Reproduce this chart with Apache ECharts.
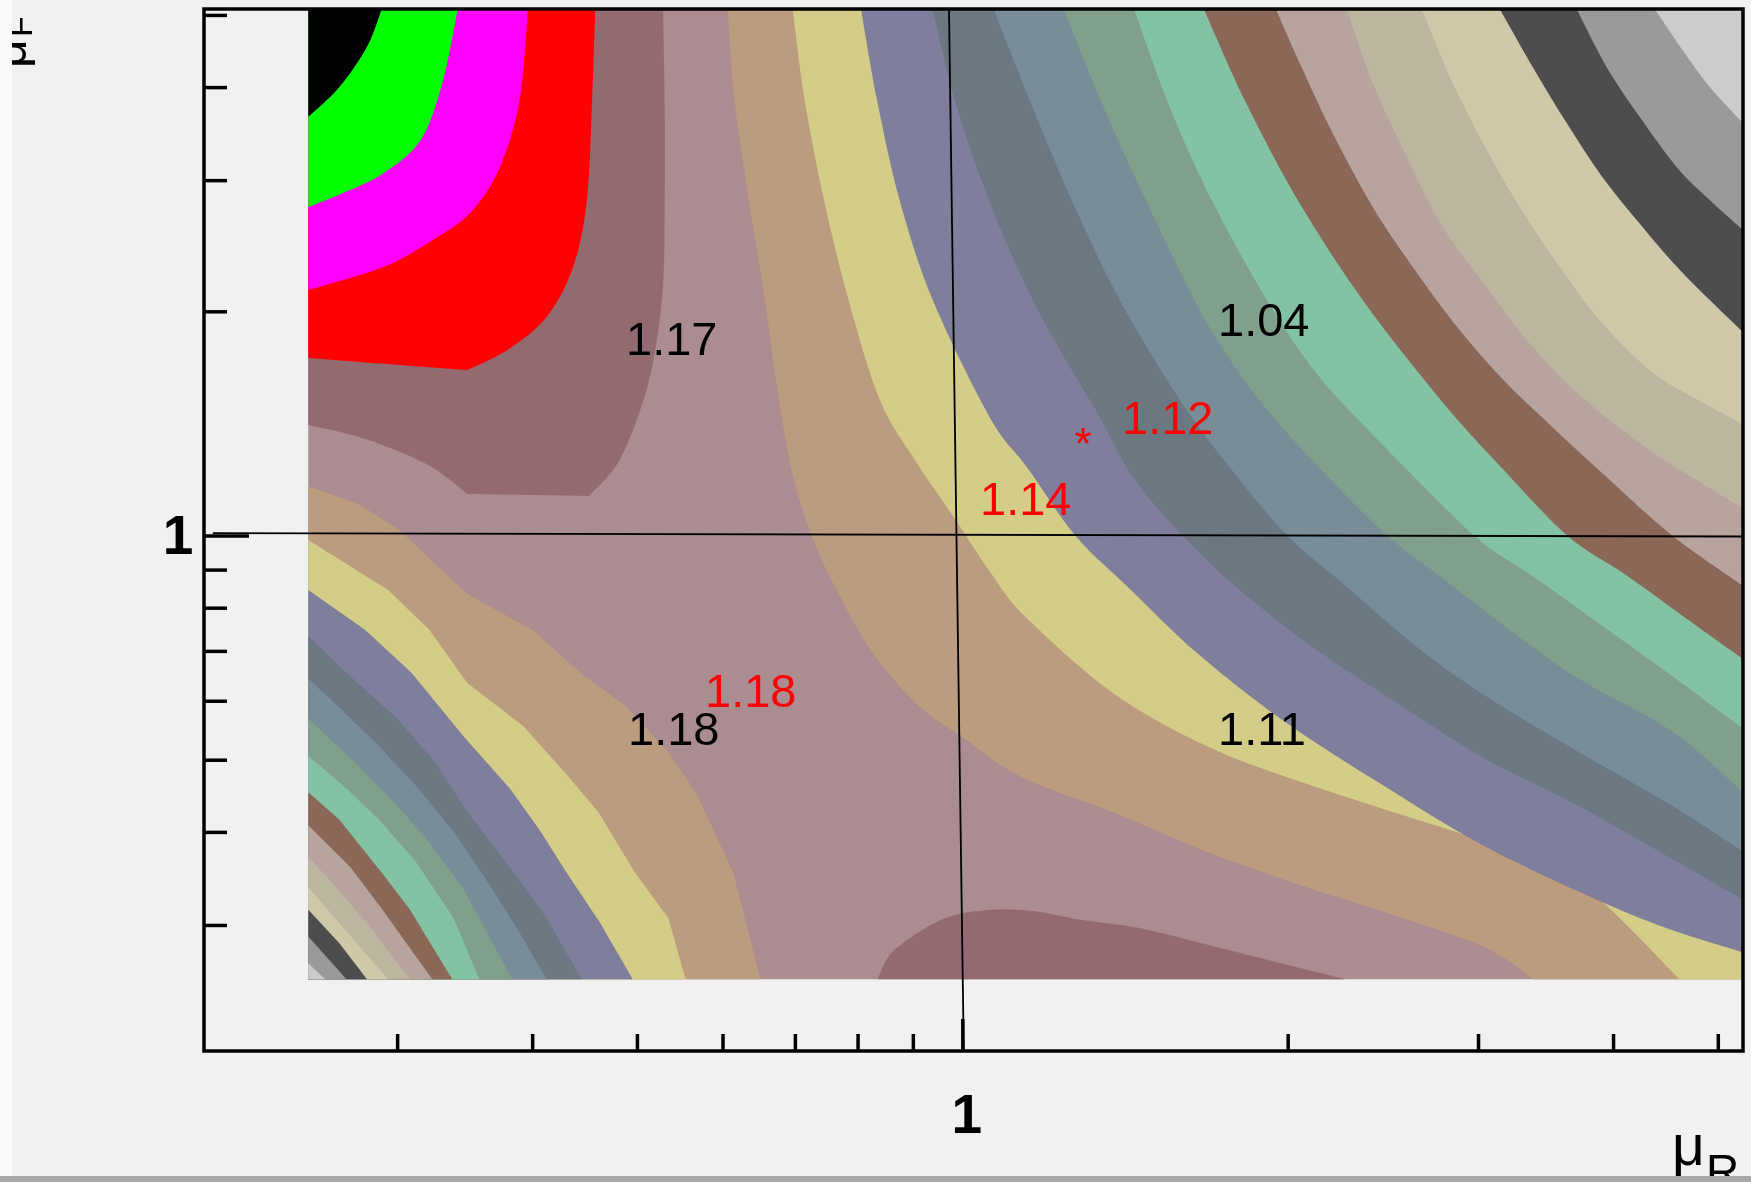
<!DOCTYPE html>
<html>
<head>
<meta charset="utf-8">
<script src="https://cdn.jsdelivr.net/npm/echarts@6/dist/echarts.min.js"></script>
<style>
html,body{margin:0;padding:0;background:#f1f1f1;}
#chart{width:1751px;height:1182px;}
</style>
</head>
<body>
<div id="chart"></div>
<script>
// ================= DATA (mu_R, mu_F values) =================
const axisRangeX = [0.1986, 5.27];
const axisRangeY = [0.2035, 5.10];
const dataExtentX = [0.248, 5.27];
const dataExtentY = [0.254, 5.10];

const xTickValues = [0.3, 0.4, 0.5, 0.6, 0.7, 0.8, 0.9, 2, 3, 4, 5];
const yTickValues = [0.3, 0.4, 0.5, 0.6, 0.7, 0.8, 0.9, 2, 3, 4, 5];
const majorTickValues = [1];
const majorTickLabels = ['1'];

// contour boundaries, upper-right family (from the central ridge outwards)
const ur1 = [[0.606,5.10],[0.615,3.848],[0.634,2.825],[0.656,2.074],[0.676,1.523],[0.696,1.208],[0.725,1.0],[0.761,0.857],[0.825,0.697],[0.911,0.591],[0.996,0.539],[1.129,0.476],[1.376,0.426],[1.678,0.377],[2.05,0.340],[2.499,0.310],[3.046,0.280],[3.368,0.254]];
const ur2 = [[0.696,5.10],[0.714,3.848],[0.744,2.825],[0.784,2.074],[0.838,1.523],[0.903,1.265],[0.985,1.051],[1.057,0.900],[1.141,0.781],[1.376,0.616],[1.678,0.523],[2.05,0.468],[2.499,0.426],[3.046,0.388],[3.714,0.343],[4.606,0.254]];
const ur3 = [[0.805,5.10],[0.833,3.848],[0.874,2.825],[0.938,2.074],[1.059,1.444],[1.146,1.238],[1.272,1.0],[1.418,0.857],[1.646,0.697],[1.969,0.568],[2.452,0.462],[3.105,0.377],[4.23,0.307],[5.27,0.276]];
const ur4 = [[0.938,5.10],[0.983,3.848],[1.057,2.825],[1.144,2.166],[1.23,1.777],[1.339,1.444],[1.437,1.200],[1.598,1.0],[1.804,0.846],[2.094,0.714],[2.499,0.602],[3.046,0.502],[3.714,0.434],[5.27,0.325]];
const ur5 = [[1.068,5.10],[1.153,3.848],[1.261,2.825],[1.397,2.074],[1.588,1.523],[1.774,1.226],[1.998,1.0],[2.261,0.857],[2.624,0.712],[3.046,0.610],[3.714,0.513],[4.537,0.434],[5.27,0.377]];
const ur6 = [[1.24,5.10],[1.35,3.765],[1.477,2.825],[1.678,1.944],[1.891,1.508],[2.153,1.222],[2.473,1.0],[2.762,0.884],[3.206,0.748],[3.714,0.643],[4.537,0.546],[5.27,0.453]];
const ur7 = [[1.44,5.10],[1.554,3.765],[1.699,2.825],[1.911,2.074],[2.13,1.645],[2.452,1.321],[2.976,1.0],[3.345,0.889],[3.883,0.762],[4.528,0.649],[5.27,0.551]];
const ur8 = [[1.671,5.10],[1.823,3.848],[2.041,2.825],[2.344,2.074],[2.768,1.523],[3.166,1.226],[3.628,1.0],[4.105,0.887],[4.625,0.783],[5.27,0.684]];
const ur9 = [[1.948,5.10],[2.05,4.314],[2.199,3.474],[2.395,2.764],[2.608,2.297],[2.834,1.949],[3.119,1.655],[3.455,1.431],[3.968,1.189],[4.537,1.0],[5.27,0.857]];
const ur10 = [[2.266,5.10],[2.395,4.056],[2.575,3.226],[2.78,2.599],[3.053,2.159],[3.324,1.833],[3.722,1.546],[4.32,1.304],[5.27,1.090]];
const ur11 = [[2.658,5.10],[2.84,4.056],[3.053,3.297],[3.276,2.764],[3.567,2.297],[3.883,1.949],[4.32,1.670],[4.754,1.532],[5.27,1.413]];
const ur12 = [[3.139,5.10],[3.368,4.261],[3.62,3.584],[3.883,3.070],[4.202,2.656],[4.635,2.254],[5.27,1.878]];
const ur13 = [[3.698,5.10],[3.942,4.261],[4.23,3.651],[4.576,3.128],[4.909,2.825],[5.27,2.575]];
const ur14 = [[4.366,5.10],[4.635,4.490],[4.909,4.006],[5.27,3.584]];

// contour boundaries, lower-left family (from the ridge towards the corner)
const ll1 = [[0.248,1.167],[0.277,1.1005],[0.301,1.019],[0.348,0.836],[0.40,0.748],[0.446,0.649],[0.488,0.591],[0.534,0.513],[0.566,0.453],[0.613,0.354],[0.65,0.254]];
const ll2 = [[0.248,0.988],[0.294,0.846],[0.321,0.748],[0.348,0.635],[0.392,0.556],[0.428,0.482],[0.46,0.426],[0.497,0.354],[0.534,0.307],[0.554,0.254]];
const ll3 = [[0.248,0.846],[0.28,0.748],[0.309,0.655],[0.345,0.539],[0.381,0.458],[0.406,0.403],[0.43,0.353],[0.462,0.302],[0.495,0.254]];
const ll4 = [[0.248,0.734],[0.269,0.655],[0.30,0.568],[0.325,0.497],[0.348,0.426],[0.384,0.354],[0.412,0.307],[0.444,0.254]];
const ll5 = [[0.248,0.643],[0.266,0.586],[0.288,0.523],[0.312,0.462],[0.338,0.401],[0.362,0.346],[0.385,0.301],[0.412,0.254]];
const ll6 = [[0.248,0.568],[0.272,0.502],[0.294,0.448],[0.319,0.392],[0.345,0.336],[0.383,0.254]];
const ll7 = [[0.248,0.507],[0.269,0.458],[0.288,0.417],[0.312,0.365],[0.338,0.307],[0.357,0.254]];
const ll8 = [[0.248,0.453],[0.265,0.416],[0.291,0.351],[0.308,0.315],[0.337,0.254]];
const ll9 = [[0.248,0.409],[0.271,0.36],[0.289,0.318],[0.323,0.254]];
const ll10 = [[0.248,0.371],[0.261,0.342],[0.281,0.302],[0.308,0.254]];
const ll11 = [[0.248,0.338],[0.265,0.302],[0.294,0.254]];
const ll12 = [[0.248,0.315],[0.265,0.284],[0.281,0.254]];
const ll13 = [[0.248,0.29],[0.269,0.254]];
const ll14 = [[0.248,0.267],[0.257,0.254]];

// upper-left corner (increasing values)
const ulDarkMauve = [[0.528,5.10],[0.53,3.765],[0.53,2.825],[0.528,2.166],[0.518,1.739],[0.503,1.476],[0.479,1.249],[0.451,1.132],[0.348,1.139],[0.319,1.249],[0.28,1.35],[0.248,1.409]];
const ulRed = [[0.457,5.10],[0.454,3.848],[0.449,2.825],[0.436,2.297],[0.412,1.968],[0.379,1.777],[0.348,1.670],[0.248,1.734]];
const ulMagenta = [[0.396,5.10],[0.389,3.848],[0.373,3.128],[0.35,2.714],[0.323,2.496],[0.291,2.297],[0.248,2.139]];
const ulGreen = [[0.341,5.10],[0.33,4.056],[0.315,3.40],[0.291,3.07],[0.267,2.887],[0.248,2.764]];
const ulBlack = [[0.29,5.10],[0.281,4.533],[0.265,4.006],[0.248,3.651]];

// island at the bottom
const bottomBump = [[0.834,0.254],[0.851,0.2705],[0.876,0.2825],[0.954,0.305],[1.037,0.314],[1.156,0.314],[1.289,0.305],[1.449,0.298],[1.646,0.285],[1.948,0.268],[2.261,0.254]];

// hand-drawn cross through (1,1)
const crossV = [[0.971,5.10],[1.002,0.2045]];
const crossH = [[0.2024,1.009],[5.27,0.9985]];

// ================= STYLES =================
const C = {
  lightMauve:'#aa8c91', darkMauve:'#946a71', tan:'#bc9c7f', yellow:'#d3cd87',
  purple:'#7f7e9c', slate:'#6b7882', blueGray:'#788d97', grayGreen:'#81a08b',
  mint:'#83c2a3', brown:'#8a6756', pinkish:'#b8a49e', beige:'#bcb6a1',
  lightKhaki:'#cfc9aa', darkGray:'#4d4d4d', midGray:'#9a9a9a', lightGray:'#cccccc',
  red:'#ff0000', magenta:'#ff00ff', green:'#00ff00', black:'#000000'
};
const bandColors = [C.tan, C.yellow, C.purple, C.slate, C.blueGray, C.grayGreen, C.mint,
  C.brown, C.pinkish, C.beige, C.lightKhaki, C.darkGray, C.midGray, C.lightGray];
const FONT = '"Liberation Sans", Arial, Helvetica, sans-serif';

const XL = dataExtentX[0], XR = dataExtentX[1], YB = dataExtentY[0], YT = dataExtentY[1];

// region = boundary curve (smoothed or straight when drawn) + straight closing corners
const regions = [];
regions.push({curve: [[XL,YB],[XR,YB],[XR,YT],[XL,YT]], corners: [], color: C.lightMauve, straight: true});
regions.push({curve: ulDarkMauve, corners: [[XL, YT]], color: C.darkMauve, breaks: [7, 8]});
regions.push({curve: ulRed, corners: [[XL, YT]], color: C.red, breaks: [6]});
regions.push({curve: ulMagenta, corners: [[XL, YT]], color: C.magenta});
regions.push({curve: ulGreen, corners: [[XL, YT]], color: C.green});
regions.push({curve: ulBlack, corners: [[XL, YT]], color: C.black});
regions.push({curve: bottomBump, corners: [], color: C.darkMauve});
[ur1,ur2,ur3,ur4,ur5,ur6,ur7,ur8,ur9,ur10,ur11,ur12,ur13,ur14].forEach((b, i) => {
  const last = b[b.length - 1];
  const corners = last[1] <= YB + 1e-9 ? [[XR, YB], [XR, YT]] : [[XR, YT]];
  regions.push({curve: b, corners, color: bandColors[i]});
});
[ll1,ll2,ll3,ll4,ll5,ll6,ll7,ll8,ll9,ll10,ll11,ll12,ll13,ll14].forEach((b, i) => {
  regions.push({curve: b, corners: [[XL, YB]], color: bandColors[i], straight: true});
});

function f(v) { return v.toFixed(2); }
// Catmull-Rom through the read points, expressed as cubic Bezier commands
function splinePiece(P) {
  let d = '';
  for (let i = 0; i < P.length - 1; i++) {
    const p0 = P[i - 1] || P[i], p1 = P[i], p2 = P[i + 1], p3 = P[i + 2] || P[i + 1];
    const c1x = p1[0] + (p2[0] - p0[0]) / 6, c1y = p1[1] + (p2[1] - p0[1]) / 6;
    const c2x = p2[0] - (p3[0] - p1[0]) / 6, c2y = p2[1] - (p3[1] - p1[1]) / 6;
    d += ' C' + f(c1x) + ',' + f(c1y) + ' ' + f(c2x) + ',' + f(c2y) + ' ' + f(p2[0]) + ',' + f(p2[1]);
  }
  return d;
}
function regionPath(r, api) {
  const P = r.curve.map(p => api.coord(p));
  let d = 'M' + f(P[0][0]) + ',' + f(P[0][1]);
  if (r.straight) {
    for (let i = 1; i < P.length; i++) d += ' L' + f(P[i][0]) + ',' + f(P[i][1]);
  } else {
    const cuts = [0].concat(r.breaks || [], [P.length - 1]);
    for (let k = 0; k < cuts.length - 1; k++) {
      d += splinePiece(P.slice(cuts[k], cuts[k + 1] + 1));
    }
  }
  r.corners.forEach(c => { const q = api.coord(c); d += ' L' + f(q[0]) + ',' + f(q[1]); });
  return d + ' Z';
}

const chart = echarts.init(document.getElementById('chart'), null, {renderer: 'canvas'});

const hiddenAxis = {
  type: 'log', logBase: 10,
  axisLine: {show: false}, axisTick: {show: false}, axisLabel: {show: false},
  splitLine: {show: false}, minorSplitLine: {show: false}
};

function tickSeries(values, isX, len, withLabel) {
  return {
    type: 'custom', coordinateSystem: 'cartesian2d', clip: false, silent: true, z: 6,
    data: values.map(v => isX ? [v, axisRangeY[0]] : [axisRangeX[0], v]),
    encode: {x: 0, y: 1},
    renderItem: function (params, api) {
      const p = api.coord([api.value(0), api.value(1)]);
      const children = [];
      if (isX) {
        children.push({type: 'line', shape: {x1: p[0], y1: p[1], x2: p[0], y2: p[1] - len},
          style: {stroke: '#000', lineWidth: 3.5}});
      } else {
        children.push({type: 'line', shape: {x1: p[0], y1: p[1], x2: p[0] + len, y2: p[1]},
          style: {stroke: '#000', lineWidth: 3.5}});
      }
      if (withLabel) {
        const t = majorTickLabels[params.dataIndex];
        children.push({type: 'text',
          x: isX ? p[0] + 4 : p[0] - 26, y: isX ? p[1] + 67 : p[1] + 3,
          style: {text: t, font: 'bold 55px ' + FONT, fill: '#000',
            align: 'center', verticalAlign: 'middle', textAlign: 'center', textVerticalAlign: 'middle'}});
      }
      return {type: 'group', children};
    }
  };
}

function txt(text, x, y, color, size, extra) {
  return Object.assign({
    type: 'text', x: x, y: y, z: 30,
    style: {text: text, font: size + 'px ' + FONT, fill: color,
      align: 'left', verticalAlign: 'middle', textAlign: 'left', textVerticalAlign: 'middle'}
  }, extra || {});
}

const option = {
  backgroundColor: '#f1f1f1',
  animation: false,
  grid: {left: 204, right: 8, top: 9, bottom: 131, show: false, containLabel: false, outerBoundsMode: 'none'},
  xAxis: Object.assign({}, hiddenAxis, {min: axisRangeX[0], max: axisRangeX[1]}),
  yAxis: Object.assign({}, hiddenAxis, {min: axisRangeY[0], max: axisRangeY[1]}),
  series: [
    {
      type: 'custom', coordinateSystem: 'cartesian2d', clip: true, silent: true, z: 1,
      data: regions.map(r => [r.curve[0][0], r.curve[0][1]]),
      encode: {x: 0, y: 1},
      renderItem: function (params, api) {
        const r = regions[params.dataIndex];
        return {type: 'path', shape: {pathData: regionPath(r, api)}, style: {fill: r.color}};
      }
    },
    {type: 'line', data: crossV, symbol: 'none', silent: true, z: 5, clip: false,
      lineStyle: {color: '#000', width: 1.8}},
    {type: 'line', data: crossH, symbol: 'none', silent: true, z: 5, clip: false,
      lineStyle: {color: '#000', width: 1.8}},
    tickSeries(xTickValues, true, 17, false),
    tickSeries(majorTickValues, true, 32, true),
    tickSeries(yTickValues, false, 23, false),
    tickSeries(majorTickValues, false, 45, true)
  ],
  graphic: [
    {type: 'rect', z: 20, shape: {x: 204, y: 9, width: 1539, height: 1042},
      style: {fill: 'none', stroke: '#000', lineWidth: 3.5}},
    txt('1.17', 626, 342, '#000', 47),
    txt('1.04', 1218, 323, '#000', 47),
    txt('1.18', 628, 732, '#000', 47),
    txt('1.11', 1218, 732, '#000', 47),
    txt('1.18', 705, 694, '#ff0000', 47),
    txt('1.14', 980, 502, '#ff0000', 47),
    txt('1.12', 1122, 421, '#ff0000', 47),
    {type: 'text', x: 1083, y: 447, z: 30,
      style: {text: '*', font: '44px ' + FONT, fill: '#ff0000',
        align: 'center', verticalAlign: 'middle', textAlign: 'center', textVerticalAlign: 'middle'}},
    txt('\u03bc', 1672, 1149, '#000', 57),
    txt('R', 1706, 1174, '#000', 46),
    txt('\u03bc', 12, 68, '#000', 50, {rotation: Math.PI / 2}),
    txt('F', 23, 37, '#000', 34, {rotation: Math.PI / 2}),
    {type: 'rect', z: 40, shape: {x: 0, y: 0, width: 12, height: 1182}, style: {fill: '#f9f9f9'}},
    {type: 'rect', z: 40, shape: {x: 0, y: 1176, width: 1751, height: 6}, style: {fill: '#a8a8a8'}}
  ]
};
chart.setOption(option);
</script>
</body>
</html>
